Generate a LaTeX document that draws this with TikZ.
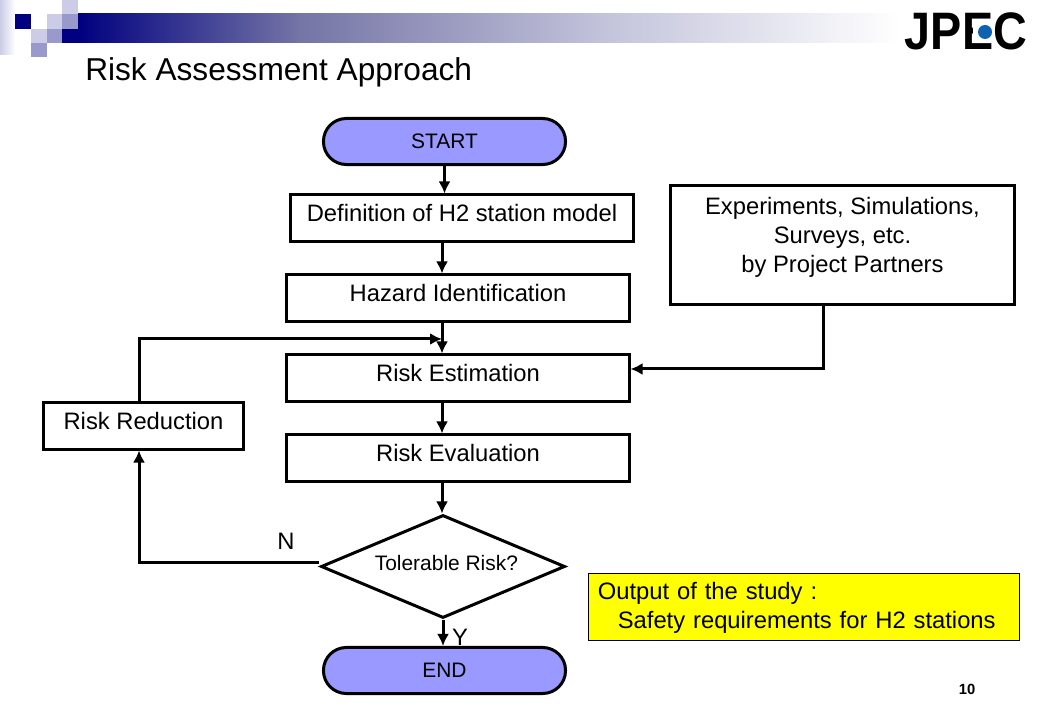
\documentclass[tikz,border=0pt]{standalone}
\usepackage{fontspec}
\usepackage{graphicx}
\usetikzlibrary{shapes.geometric,arrows.meta}
\setmainfont{Liberation Sans}
\definecolor{navy}{HTML}{000080}
\definecolor{lightsq}{HTML}{CCCCE6}
\definecolor{midsq}{HTML}{9999CC}
\definecolor{pill}{HTML}{9999FF}
\definecolor{logoblue}{HTML}{0F62B0}
\definecolor{outputfill}{HTML}{FFFF00}
\tikzset{
  boxtext/.style={font=\fontsize{16.9}{20.6}\selectfont},
  smalltext/.style={font=\fontsize{14.9}{18}\selectfont},
  process/.style={draw=black,line width=0.075cm,fill=white,boxtext,inner sep=0,align=center},
  terminal/.style={draw=black,line width=0.075cm,fill=pill,smalltext,inner sep=0,rounded corners=0.57cm,minimum width=6.05cm,minimum height=1.15cm},
  decision/.style={draw=black,line width=0.075cm,fill=white,smalltext,diamond,aspect=2.37,inner sep=0,minimum width=6.1cm,minimum height=2.575cm},
  link/.style={black,line width=0.075cm,-{Latex[length=0.3cm,width=0.3cm]}}
}
\begin{document}
\begin{tikzpicture}[x=0.025cm,y=-0.025cm]
\useasboundingbox (0,0) rectangle (1040,720);

% header band
\shade[left color=lightsq,right color=white,draw=none] (0,0) rectangle (15,55);
\shade[left color=navy,right color=navy!55!gray!70!white,draw=none] (78,14) rectangle (300,43);
\shade[left color=navy!55!gray!70!white,right color=black!5!lightsq,draw=none] (300,14) rectangle (600,43);
\shade[left color=black!5!lightsq,right color=white,draw=none] (600,14) rectangle (900,43);
\fill[navy] (15,14) rectangle (31,29);
\fill[lightsq] (47,14) rectangle (62,29);
\fill[lightsq] (62,0) rectangle (78,14);
\fill[midsq] (62,14) rectangle (78,29);
\fill[lightsq] (31,29) rectangle (47,43);
\fill[midsq] (47,29) rectangle (62,43);
\fill[navy] (62,29) rectangle (78,43);
\fill[midsq] (31,43) rectangle (47,57);

\node[anchor=west,inner sep=0,font=\fontsize{22.5}{27}\selectfont] (title) at (85,72) {Risk Assessment Approach};

% logo
\node[inner sep=0,font=\bfseries] (logo) at (966,31.5) {\resizebox{3.05cm}{0.92cm}{JPEC}};
\fill[white] (972.5,24) rectangle (993,39);
\fill[logoblue] (985,32) circle (7);

% flow
\node[terminal] (start) at (444.5,141.5) {START};
\node[process,minimum width=8.55cm,minimum height=1.15cm,text depth=0.27cm] (model) at (462,218) {Definition of H2 station model};
\node[process,minimum width=8.55cm,minimum height=1.15cm,text depth=0.27cm] (hazard) at (458,298) {Hazard Identification};
\node[process,minimum width=8.55cm,minimum height=1.15cm,text depth=0.27cm] (estimate) at (458,378) {Risk Estimation};
\node[process,minimum width=8.55cm,minimum height=1.15cm,text depth=0.27cm] (evaluate) at (458,458) {Risk Evaluation};
\node[decision,text depth=0.2cm] (tolerable) at (443,566.5) {\hspace*{0.17cm}Tolerable Risk?};
\node[terminal] (end) at (444.5,670.5) {END};
\node[process,minimum width=5cm,minimum height=1.15cm,text depth=0.27cm] (reduce) at (143.5,426) {Risk Reduction};
\node[process,minimum width=8.6cm,minimum height=2.95cm,text depth=0.5cm] (partners) at (842.5,245) {Experiments, Simulations,\\Surveys, etc.\\by Project Partners};
\node[draw=black,thin,fill=outputfill,boxtext,inner sep=0,minimum width=10.78cm,minimum height=1.68cm,align=left,text width=10.28cm,text height=0.52cm] (output) at (803.5,606.5) {Output of the study :\\\hspace*{0.5cm}Safety requirements for H2 stations};

\node[boxtext] (no) at (286,541) {N};
\node[boxtext] (yes) at (460,637) {Y};
\node[inner sep=0,font=\bfseries\fontsize{10.5}{12}\selectfont] (page) at (967,689) {10};

\coordinate (spine) at (442,339);
\coordinate (siderail) at (139,339);
\coordinate (railfoot) at (139,563);
\coordinate (partnerfoot) at (823,369);

\draw[link] (start.south) -- (start.south |- model.north);
\draw[link] (model.south -| spine) -- (hazard.north -| spine);
\draw[link] (hazard.south -| spine) -- (estimate.north -| spine);
\draw[link] (estimate.south -| spine) -- (evaluate.north -| spine);
\draw[link] (evaluate.south -| spine) -- (tolerable.north -| spine);
\draw[link] (tolerable.south) -- (end.north -| tolerable.south);
\draw[link] (reduce.north -| siderail) -- (siderail) -- (spine);
\draw[link] (partners.south -| partnerfoot) -- (partnerfoot) -- (estimate.east |- partnerfoot);
\draw[link] (tolerable.west |- railfoot) -- (railfoot) -- (reduce.south -| railfoot);
\end{tikzpicture}
\end{document}
